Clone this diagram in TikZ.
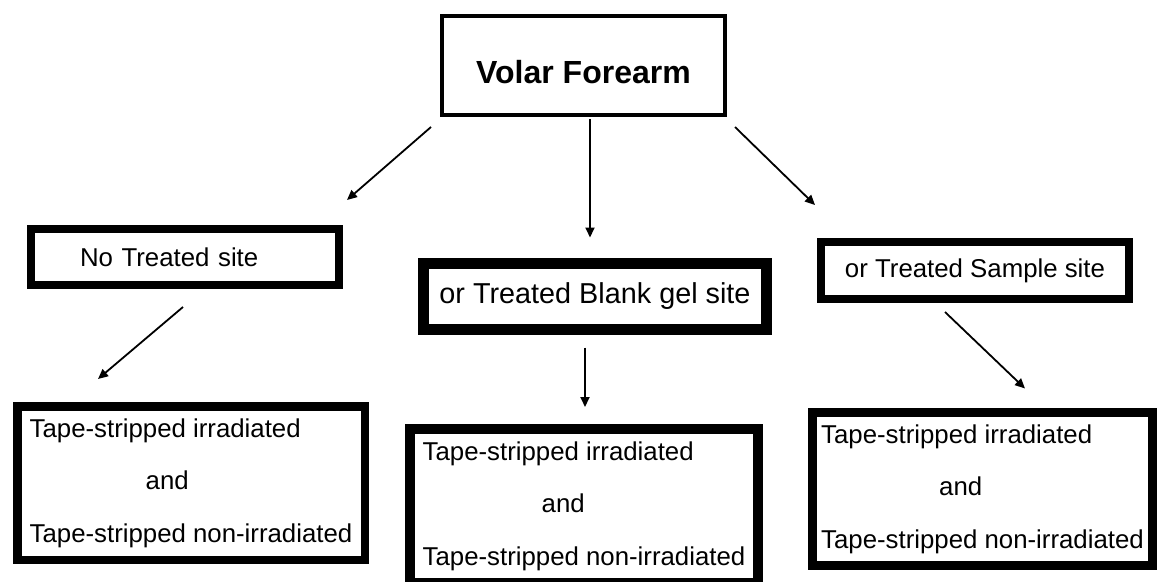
\documentclass[tikz,border=0pt]{standalone}
\usepackage{fontspec}
\setmainfont{Liberation Sans}
\usetikzlibrary{arrows.meta,calc}
\begin{document}
\begin{tikzpicture}[x=1pt,y=-1pt,
  box/.style={draw=black,rectangle,inner sep=2pt,fill=white},
  reg/.style={font=\fontsize{25.8pt}{52.5pt}\selectfont},
  conn/.style={draw=black,line width=1.8pt,-{Triangle[length=10pt,width=9pt]}}]
\useasboundingbox[fill=white] (0,0) rectangle (1161,581);

\node[box,line width=4pt,minimum width=283pt,minimum height=99pt,
      font=\fontsize{32pt}{38pt}\selectfont\bfseries,text height=36pt,text depth=0pt]
  (top) at (583.5,65.5) {Volar Forearm};

\node[box,reg,line width=8pt,minimum width=308pt,minimum height=56pt,
      text width=210pt,align=left,inner xsep=49pt]
  (nts) at (185,257) {No Treated site};

\node[box,line width=11pt,minimum width=343pt,minimum height=66pt,
      font=\fontsize{28.8pt}{34pt}\selectfont]
  (blank) at (595,296.5) {or Treated Blank gel site};

\node[box,reg,line width=8pt,minimum width=308pt,minimum height=57pt]
  (sample) at (975,270.5) {or Treated Sample site};

\node[box,reg,line width=8.5pt,minimum width=347.5pt,minimum height=153.5pt,align=left]
  (bl) at (191,483) {Tape-stripped irradiated\\\hspace*{116pt}and\\Tape-stripped non-irradiated};

\node[box,reg,line width=10pt,minimum width=348pt,minimum height=154pt,align=left]
  (bm) at (584,506) {Tape-stripped irradiated\\\hspace*{119pt}and\\Tape-stripped non-irradiated};

\node[box,reg,line width=9pt,minimum width=340pt,minimum height=153pt,align=left]
  (br) at (982.5,489) {Tape-stripped irradiated\\\hspace*{118pt}and\\Tape-stripped non-irradiated};

\draw[conn] ($(top.south)+(-152.5,10)$) -- ($(nts.north)+(162,-25)$);
\draw[conn] ($(top.south)+(6.5,2)$) -- ($(blank.north)+(-5,-20.5)$);
\draw[conn] ($(top.south)+(151.5,10)$) -- ($(sample.north)+(-160,-33)$);
\draw[conn] ($(nts.south)+(-2,18)$) -- ($(bl.north)+(-93,-23)$);
\draw[conn] ($(blank.south)+(-10,12.5)$) -- ($(bm.north)+(1,-17)$);
\draw[conn] ($(sample.south)+(-30,9)$) -- ($(br.north)+(42.5,-19.5)$);
\end{tikzpicture}
\end{document}
